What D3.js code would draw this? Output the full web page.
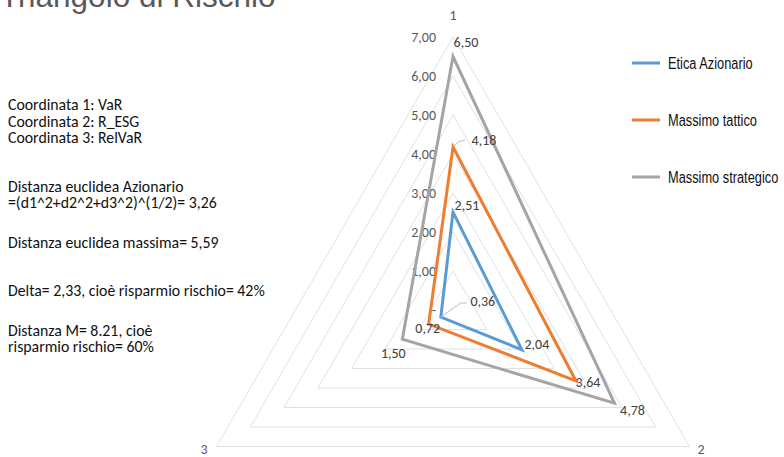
<!DOCTYPE html>
<html><head><meta charset="utf-8">
<script src="https://cdn.jsdelivr.net/npm/d3@7"></script>
<style>body{margin:0;background:#fff;overflow:hidden}</style>
</head><body>
<svg id="c" width="784" height="457"></svg>
<script>
const axes = ["1","2","3"];
const seriesNames = ["Etica Azionario","Massimo tattico","Massimo strategico"];
const eticaAzionario = [2.51, 2.04, 0.36];
const massimoTattico = [4.18, 3.64, 0.72];
const massimoStrategico = [6.50, 4.78, 1.50];
const tickValues = [0,1,2,3,4,5,6,7];
const tickLabels = ["-","1,00","2,00","3,00","4,00","5,00","6,00","7,00"];
const notes = ["Coordinata 1: VaR","Coordinata 2: R_ESG","Coordinata 3: RelVaR","",
 "Distanza euclidea Azionario","=(d1^2+d2^2+d3^2)^(1/2)= 3,26","",
 "Distanza euclidea massima= 5,59","","Delta= 2,33, cioè risparmio rischio= 42%","",
 "Distanza M= 8.21, cioè","risparmio rischio= 60%"];
const titleText = "Triangolo di Rischio";

const series = [eticaAzionario, massimoTattico, massimoStrategico];
const colors = ["#5B9BD5","#ED7D31","#A5A5A5"];
const labelOffsets = [
  [[14,-7],[15,-6],[42,-16]],
  [[31,-7],[12,1],[-1,4]],
  [[13,-14],[18,7],[-9,14]]
];
const leaderPts = {"0,2":[[0,0],[20,-14],[26,-14]],"1,0":[[0,0],[5,-5],[12,-7]]};

const svg = d3.select("#c");
const cx = 453, cy = 310, R = 273;
const r = d3.scaleLinear().domain([0,7]).range([0,R]);
const ang = i => -Math.PI/2 + i*2*Math.PI/3;
const pt = (v,i) => [cx + r(v)*Math.cos(ang(i)), cy + r(v)*Math.sin(ang(i))];
const fmt = v => d3.format(".2f")(v).replace(".",",");
const cal = "Carlito, Calibri, Liberation Sans, sans-serif";

// title
svg.append("text").attr("x",0).attr("y",7).attr("font-family","Liberation Sans, Arial, sans-serif")
  .attr("font-size",31.5).attr("fill","#595959").text(titleText);

// notes
const ng = svg.append("g").attr("font-family",cal).attr("font-size",15.8).attr("fill","#111");
const noteY = [104,121,137,null,186,202,null,242,null,290,null,330,346];
notes.forEach((t,i)=>{ if(t) ng.append("text").attr("x",8).attr("y",noteY[i]).attr("dy","0.35em").text(t); });

// grid
const line = d3.line();
tickValues.filter(v=>v>0).forEach(v=>{
  svg.append("path").attr("d", line([0,1,2].map(i=>pt(v,i)))+"Z")
    .attr("fill","none").attr("stroke","#e0e0e0").attr("stroke-width",1);
});

// tick labels
const tg = svg.append("g").attr("font-family",cal).attr("font-size",14).attr("fill","#595959").attr("text-anchor","end");
tickValues.forEach((v,k)=>{
  tg.append("text").attr("x",cx-17).attr("y",cy - r(v)).attr("dy","0.35em").text(tickLabels[k]);
});

// axis labels
const axisLabelPos = [[0,-295],[248,139],[-249,139]];
axes.forEach((a,i)=>{
  svg.append("text").attr("x",cx+axisLabelPos[i][0]).attr("y",cy+axisLabelPos[i][1]).attr("dy","0.35em")
    .attr("text-anchor","middle").attr("font-family",cal)
    .attr("font-size",14).attr("fill","#595959").text(a);
});

// series
[2,1,0].forEach(s=>{
  svg.append("path").attr("d", line(series[s].map((v,i)=>pt(v,i)))+"Z")
    .attr("fill","none").attr("stroke",colors[s]).attr("stroke-width",3).attr("stroke-linejoin","miter");
});

// leader lines
Object.keys(leaderPts).forEach(k=>{
  const [s,i] = k.split(",").map(Number);
  const p = pt(series[s][i], i);
  svg.append("path").attr("d", line(leaderPts[k].map(d=>[p[0]+d[0],p[1]+d[1]])))
    .attr("fill","none").attr("stroke","#bfbfbf").attr("stroke-width",1);
});

// data labels
const dg = svg.append("g").attr("font-family",cal).attr("font-size",14).attr("fill","#404040").attr("text-anchor","middle");
series.forEach((vals,s)=>vals.forEach((v,i)=>{
  const p = pt(v,i);
  dg.append("text").attr("x",p[0]+labelOffsets[s][i][0]).attr("y",p[1]+labelOffsets[s][i][1]).attr("dy","0.35em").text(fmt(v));
}));

// legend
const legY = [63,120,177];
const lg = svg.append("g");
seriesNames.forEach((n,i)=>{
  lg.append("line").attr("x1",632).attr("x2",660).attr("y1",legY[i]).attr("y2",legY[i])
    .attr("stroke",colors[i]).attr("stroke-width",3);
  const t = lg.append("text").attr("x",668).attr("y",legY[i]).attr("dy","0.35em")
    .attr("font-family","Liberation Sans Narrow, Arial Narrow, Liberation Sans, sans-serif").attr("font-size",16).attr("fill","#111").text(n);
  const w = t.node().getComputedTextLength();
  t.attr("textLength", w*0.8).attr("lengthAdjust","spacingAndGlyphs");
});
</script>
</body></html>
